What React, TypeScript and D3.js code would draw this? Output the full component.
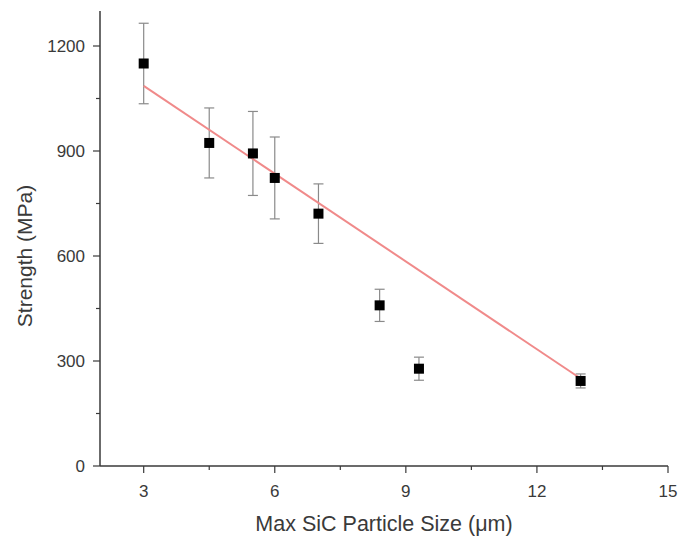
import React from "react";
import * as d3 from "d3";

const sizes = [3, 4.5, 5.5, 6, 7, 8.4, 9.3, 13];
const strength = [1150, 923, 893, 823, 721, 459, 278, 243];
const errors = [115, 100, 120, 117, 85, 46, 33, 20];
const fitX = [3, 13];
const fitY = [1086, 250];
const xTicks = [3, 6, 9, 12, 15];
const xMinor = [4.5, 7.5, 10.5, 13.5];
const yTicks = [0, 300, 600, 900, 1200];
const yMinor = [150, 450, 750, 1050];

export default function App() {
  const W = 678, H = 539;
  const x = d3.scaleLinear().domain([2, 15]).range([100, 668]);
  const y = d3.scaleLinear().domain([0, 1300]).range([466, 11]);
  const axisColor = "#3a3a3a";
  const textColor = "#3a3a3a";
  const font = "'Liberation Sans', Arial, sans-serif";
  const line = d3.line<number>().x((_, i) => x(fitX[i])).y((d) => y(d));

  return (
    <svg width={W} height={H} style={{ position: "absolute", left: 0, top: 0, background: "#fff" }}>
      <rect x={0} y={0} width={W} height={H} fill="#fff" />
      {/* axes */}
      <line x1={x(2)} x2={x(15)} y1={y(0)} y2={y(0)} stroke={axisColor} strokeWidth={1.5} />
      <line x1={x(2)} x2={x(2)} y1={y(0)} y2={y(1300)} stroke={axisColor} strokeWidth={1.5} />
      {xTicks.map((t) => (
        <g key={"xt" + t}>
          <line x1={x(t)} x2={x(t)} y1={y(0)} y2={y(0) + 7} stroke={axisColor} strokeWidth={1.2} />
          <text x={x(t)} y={y(0) + 31} textAnchor="middle" fontSize={17} fill={textColor} fontFamily={font}>{t}</text>
        </g>
      ))}
      {xMinor.map((t) => (
        <line key={"xm" + t} x1={x(t)} x2={x(t)} y1={y(0)} y2={y(0) + 4} stroke={axisColor} strokeWidth={1.2} />
      ))}
      {yTicks.map((t) => (
        <g key={"yt" + t}>
          <line x1={x(2) - 7} x2={x(2)} y1={y(t)} y2={y(t)} stroke={axisColor} strokeWidth={1.2} />
          <text x={x(2) - 15} y={y(t) + 6} textAnchor="end" fontSize={17} fill={textColor} fontFamily={font}>{t}</text>
        </g>
      ))}
      {yMinor.map((t) => (
        <line key={"ym" + t} x1={x(2) - 4} x2={x(2)} y1={y(t)} y2={y(t)} stroke={axisColor} strokeWidth={1.2} />
      ))}
      {/* error bars */}
      {sizes.map((s, i) => (
        <g key={"e" + i} stroke="#8a8a8a" strokeWidth={1.2}>
          <line x1={x(s)} x2={x(s)} y1={y(strength[i] + errors[i])} y2={y(strength[i] - errors[i])} />
          <line x1={x(s) - 5} x2={x(s) + 5} y1={y(strength[i] + errors[i])} y2={y(strength[i] + errors[i])} />
          <line x1={x(s) - 5} x2={x(s) + 5} y1={y(strength[i] - errors[i])} y2={y(strength[i] - errors[i])} />
        </g>
      ))}
      {/* fit line */}
      <path d={line(fitY) || ""} fill="none" stroke="#f08a8a" strokeWidth={2} />
      {/* markers */}
      {sizes.map((s, i) => (
        <rect key={"m" + i} x={x(s) - 5} y={y(strength[i]) - 5} width={10} height={10} fill="#000" />
      ))}
      {/* titles */}
      <text x={384} y={531} textAnchor="middle" fontSize={21.5} fill={textColor} fontFamily={font}>Max SiC Particle Size (μm)</text>
      <text transform={`translate(32, ${256}) rotate(-90)`} textAnchor="middle" fontSize={21} fill={textColor} fontFamily={font}>Strength (MPa)</text>
    </svg>
  );
}
